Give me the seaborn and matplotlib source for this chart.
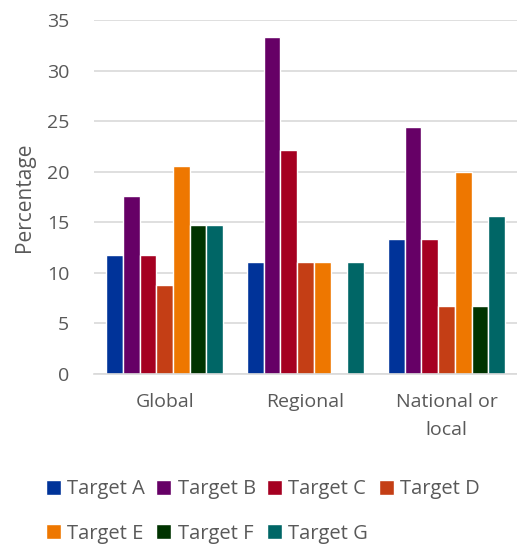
import pandas as pd
import matplotlib.pyplot as plt
import seaborn as sns

# data
scopes = ['Global', 'Regional', 'National or\nlocal']
targets = ['Target A', 'Target B', 'Target C', 'Target D', 'Target E', 'Target F', 'Target G']
target_a = [11.8, 11.1, 13.3]
target_b = [17.6, 33.3, 24.4]
target_c = [11.8, 22.2, 13.3]
target_d = [8.8, 11.1, 6.7]
target_e = [20.6, 11.1, 20.0]
target_f = [14.7, 0.0, 6.7]
target_g = [14.7, 11.1, 15.6]
colors = ['#003399', '#660066', '#A50021', '#C43E15', '#EE7700', '#003300', '#006666']

series = [target_a, target_b, target_c, target_d, target_e, target_f, target_g]
rows = []
for name, vals in zip(targets, series):
    for scope, v in zip(scopes, vals):
        rows.append({'scope': scope, 'target': name, 'value': v})
df = pd.DataFrame(rows)

sns.set_theme(style='white')
plt.rcParams['font.family'] = ['Open Sans', 'DejaVu Sans']
text_col = '#595959'

fig = plt.figure(figsize=(5.17, 5.45), dpi=100)
ax = fig.add_axes([0.182, 0.314, 0.818, 0.649])

sns.barplot(data=df, x='scope', y='value', hue='target', order=scopes,
            hue_order=targets, palette=colors, saturation=1, width=0.83,
            edgecolor='white', linewidth=1, ax=ax)

ax.set_ylim(0, 35)
ax.set_yticks(range(0, 36, 5))
ax.set_xlim(-0.5, 2.5)
ax.yaxis.grid(True, color='#d9d9d9', linewidth=1.2)
ax.set_axisbelow(True)
for s in ['top', 'right', 'left']:
    ax.spines[s].set_visible(False)
ax.spines['bottom'].set_color('#d9d9d9')
ax.spines['bottom'].set_linewidth(1.2)

ax.tick_params(axis='both', length=0, labelsize=14, labelcolor=text_col)
ax.tick_params(axis='x', pad=14)
ax.tick_params(axis='y', pad=18)
for t in ax.get_xticklabels():
    t.set_linespacing(1.7)
ax.set_xlabel('')
ax.set_ylabel('Percentage', fontsize=15, color=text_col, labelpad=8)

# matplotlib fills legend columns first; reorder so rows read A-D then E-G
handles, labels = ax.get_legend_handles_labels()
ax.legend_.remove()
order = [0, 4, 1, 5, 2, 6, 3]
fig.legend([handles[i] for i in order], [labels[i] for i in order],
           loc='lower left', bbox_to_anchor=(0.07, -0.016),
           ncol=4, frameon=False, fontsize=14.5, labelcolor=text_col,
           handlelength=0.75, handleheight=0.75, handletextpad=0.3,
           columnspacing=0.55, labelspacing=1.2, borderaxespad=0.1)

fig.savefig('out.png', dpi=100)
